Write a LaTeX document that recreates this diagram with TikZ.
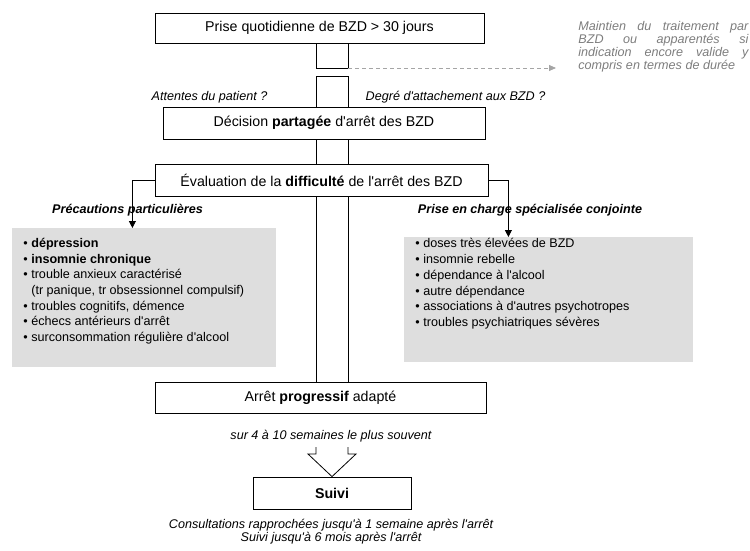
\documentclass[tikz,border=0pt]{standalone}
\usepackage{fontspec}
\setmainfont{Liberation Sans}[Ligatures=TeXOff]
\usetikzlibrary{arrows.meta}
\definecolor{boxgrey}{RGB}{222,222,222}
\definecolor{notegrey}{RGB}{125,125,125}
\definecolor{dashgrey}{RGB}{165,165,165}

\begin{document}
\begin{tikzpicture}[x=1pt,y=-1pt,line width=0.8pt,
            etape/.style={draw,inner sep=0pt,font=\fontsize{14.2}{17}\selectfont},
            remarque/.style={font=\fontsize{12.6}{13}\selectfont\itshape},
            titre/.style={font=\fontsize{12.6}{15}\selectfont\bfseries\itshape},
            liste/.style={fill=boxgrey,inner sep=0pt,anchor=north west,font=\fontsize{12.6}{15.7}\selectfont},
            fleche/.style={-{Triangle[length=7pt,width=7pt]}}]
            \useasboundingbox (0,0) rectangle (750,551);
            \node[etape,minimum width=329pt,minimum height=30pt] at (319.5,28) (prise) {Prise quotidienne de BZD > 30 jours};
            \node[etape,minimum width=322pt,minimum height=32pt] at (324,123) (decision) {Décision \textbf{partagée} d'arrêt des BZD};
            \node[etape,minimum width=333pt,minimum height=32pt] at (321.5,180) (evaluation) {Évaluation de la \textbf{difficulté} de l'arrêt des BZD};
            \node[etape,minimum width=331pt,minimum height=31pt] at (320.5,397.5) (arret) {Arrêt \textbf{progressif} adapté};
            \node[etape,minimum width=158pt,minimum height=32pt] at (332,493) (suivi) {\textbf{Suivi}};
            \node[remarque,text=notegrey,anchor=north west,inner sep=0pt,align=left] at (578,21) (maintien) {\makebox[170pt][s]{Maintien du traitement par}\\\makebox[170pt][s]{BZD ou apparentés si}\\\makebox[170pt][s]{indication encore valide y}\\compris en termes de durée};
            \node[remarque] at (209.5,97) (attentes) {Attentes du patient ?};
            \node[remarque] at (455.5,97) (degre) {Degré d'attachement aux BZD ?};
            \node[titre] at (127.5,210) (titreprec) {Précautions particulières};
            \node[titre] at (530,210) (titrespec) {Prise en charge spécialisée conjointe};
            \node[liste] at (12,228) (precautions) {\parbox[t][139pt][t]{264pt}{\leftskip=11pt
            \rule{0pt}{19pt}• \textbf{dépression}\\
            • \textbf{insomnie chronique}\\
            • trouble anxieux caractérisé\\
            \phantom{• }(tr panique, tr obsessionnel compulsif)\\
            • troubles cognitifs, démence\\
            • échecs antérieurs d'arrêt\\
            • surconsommation régulière d'alcool}};
            \node[liste] at (404,237) (specialisee) {\parbox[t][125pt][t]{289pt}{\leftskip=11pt
            \rule{0pt}{10.5pt}• doses très élevées de BZD\\
            • insomnie rebelle\\
            • dépendance à l'alcool\\
            • autre dépendance\\
            • associations à d'autres psychotropes\\
            • troubles psychiatriques sévères}};
            \node[remarque] at (331,436) (duree) {sur 4 à 10 semaines le plus souvent};
            \node[remarque,align=center] at (331,532) (consult) {Consultations rapprochées jusqu'à 1 semaine après l'arrêt\\Suivi jusqu'à 6 mois après l'arrêt};
            \coordinate (pl) at (316,0);
            \coordinate (pr) at (348,0);
            \coordinate (coupe1) at (0,68);
            \coordinate (coupe2) at (0,76);
            \coordinate (fin) at (556,68);
            \coordinate (col) at (0,447);
            \coordinate (epaule) at (0,454);
            \draw (prise.south -| pl) -- (pl |- coupe1) -- (pr |- coupe1) -- (prise.south -| pr);
            \draw[dashgrey,dash pattern=on 4pt off 3pt,-{Triangle[length=7pt,width=6pt]}] (pr |- coupe1) -- (fin);
            \draw (decision.north -| pl) -- (pl |- coupe2) -- (pr |- coupe2) -- (decision.north -| pr);
            \draw (decision.south -| pl) -- (evaluation.north -| pl);
            \draw (decision.south -| pr) -- (evaluation.north -| pr);
            \draw (evaluation.south -| pl) -- (arret.north -| pl);
            \draw (evaluation.south -| pr) -- (arret.north -| pr);
            \draw[fleche] (evaluation.west) -| ([xshift=-12pt]precautions.north);
            \draw[fleche] (evaluation.east) -| ([xshift=-40.5pt]specialisee.north);
            \draw (pl |- col) -- (pl |- epaule) -- ([xshift=-24pt]suivi.north |- epaule) -- (suivi.north) -- ([xshift=24pt]suivi.north |- epaule) -- (pr |- epaule) -- (pr |- col);
        \end{tikzpicture}
\end{document}
